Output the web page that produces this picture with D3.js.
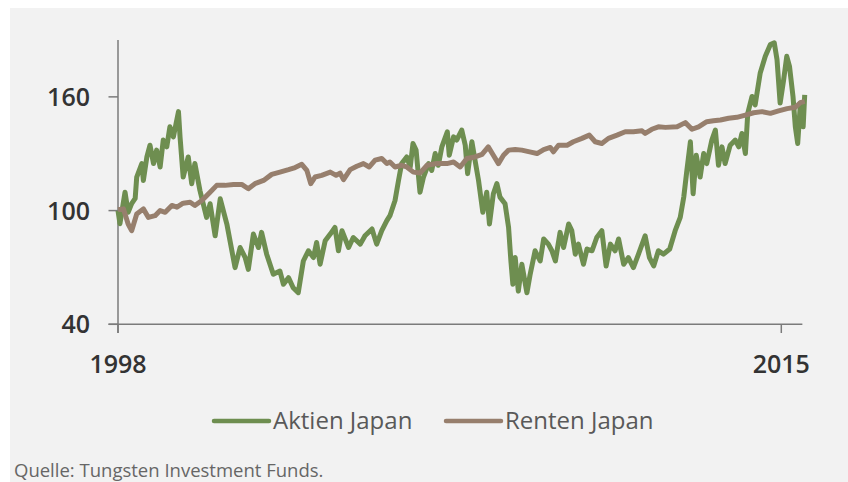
<!DOCTYPE html>
<html>
<head>
<meta charset="utf-8">
<script src="https://cdn.jsdelivr.net/npm/d3@7"></script>
<style>
  body { margin: 0; background: #fff; }
  svg { display: block; }
</style>
</head>
<body>
<div id="chart"></div>
<script>
// Aktien Japan (index, 1998 = 100)
const aktienYears = [
  1998.00, 1998.05, 1998.18, 1998.26, 1998.35, 1998.44, 1998.48, 1998.61, 1998.65, 1998.74,
  1998.82, 1998.91, 1998.99, 1999.08, 1999.16, 1999.25, 1999.33, 1999.42, 1999.55, 1999.59,
  1999.67, 1999.80, 1999.89, 1999.97, 2000.10, 2000.27, 2000.36, 2000.49, 2000.62, 2000.79,
  2001.00, 2001.13, 2001.26, 2001.34, 2001.47, 2001.60, 2001.68, 2001.81, 2001.98, 2002.15,
  2002.24, 2002.37, 2002.49, 2002.62, 2002.75, 2002.88, 2003.01, 2003.09, 2003.18, 2003.31,
  2003.44, 2003.56, 2003.65, 2003.74, 2003.91, 2004.03, 2004.21, 2004.33, 2004.51, 2004.63,
  2004.76, 2004.89, 2004.97, 2005.10, 2005.19, 2005.27, 2005.40, 2005.49, 2005.56, 2005.64,
  2005.74, 2005.83, 2005.96, 2006.04, 2006.13, 2006.21, 2006.30, 2006.44, 2006.49, 2006.60,
  2006.68, 2006.81, 2006.90, 2006.96, 2007.07, 2007.15, 2007.24, 2007.35, 2007.45, 2007.52,
  2007.62, 2007.71, 2007.79, 2007.92, 2008.01, 2008.07, 2008.12, 2008.18, 2008.26, 2008.35,
  2008.48, 2008.56, 2008.69, 2008.82, 2008.91, 2009.03, 2009.12, 2009.21, 2009.33, 2009.42,
  2009.55, 2009.63, 2009.72, 2009.80, 2009.93, 2010.02, 2010.15, 2010.27, 2010.40, 2010.51,
  2010.62, 2010.74, 2010.83, 2010.96, 2011.08, 2011.21, 2011.34, 2011.51, 2011.62, 2011.73,
  2011.85, 2011.98, 2012.14, 2012.28, 2012.41, 2012.50, 2012.58, 2012.67, 2012.74, 2012.82,
  2012.92, 2013.01, 2013.09, 2013.22, 2013.31, 2013.39, 2013.48, 2013.56, 2013.69, 2013.82,
  2013.91, 2013.99, 2014.08, 2014.14, 2014.25, 2014.33, 2014.46, 2014.59, 2014.72, 2014.82,
  2014.89, 2014.97, 2015.06, 2015.14, 2015.21, 2015.30, 2015.36, 2015.42, 2015.49, 2015.56,
  2015.60
];
const aktienValues = [
  100.0, 93.1, 109.7, 99.1, 103.7, 106.4, 117.7, 124.8, 115.9, 128.3,
  134.5, 124.8, 131.9, 123.0, 137.2, 133.6, 144.2, 138.9, 152.2, 138.9,
  117.7, 128.3, 114.2, 124.8, 110.6, 96.4, 103.6, 86.7, 106.2, 92.9,
  69.9, 80.5, 75.2, 69.0, 87.6, 80.5, 88.5, 77.0, 66.4, 68.1,
  61.1, 64.6, 59.3, 56.7, 73.4, 78.8, 75.2, 83.2, 71.7, 84.1,
  87.6, 91.1, 78.8, 89.4, 80.5, 85.8, 82.3, 86.7, 90.3, 82.3,
  89.4, 94.7, 97.3, 105.3, 115.9, 124.8, 128.3, 123.0, 135.4, 131.9,
  109.7, 117.7, 124.8, 121.2, 130.1, 123.9, 133.6, 141.6, 129.2, 138.9,
  137.2, 142.5, 134.5, 119.5, 136.3, 126.6, 115.9, 99.1, 109.7, 92.9,
  108.9, 114.2, 107.1, 103.6, 91.1, 73.4, 61.1, 75.2, 57.5, 71.7,
  56.6, 66.0, 78.8, 73.4, 85.0, 82.3, 78.8, 73.4, 88.5, 80.5,
  92.9, 89.4, 77.0, 82.3, 71.7, 79.7, 78.8, 85.8, 89.4, 70.8,
  82.3, 78.8, 85.0, 71.7, 75.2, 69.9, 77.0, 86.7, 75.2, 70.8,
  78.8, 77.0, 79.7, 89.4, 96.4, 107.1, 121.2, 136.3, 108.9, 129.2,
  117.7, 130.1, 124.8, 137.2, 142.5, 123.9, 133.6, 124.8, 134.5, 137.2,
  133.6, 140.7, 130.1, 151.3, 160.2, 155.8, 172.6, 181.4, 187.6, 188.5,
  179.7, 156.7, 169.0, 181.4, 176.1, 160.2, 144.2, 135.4, 156.7, 144.2,
  161.1
];

// Renten Japan
const rentenYears = [
  1998.00, 1998.14, 1998.26, 1998.35, 1998.48, 1998.65, 1998.78, 1998.95, 1999.08, 1999.21,
  1999.38, 1999.51, 1999.67, 1999.85, 1999.97, 2000.15, 2000.36, 2000.53, 2000.74, 2000.96,
  2001.17, 2001.34, 2001.51, 2001.73, 2001.94, 2002.15, 2002.37, 2002.54, 2002.71, 2002.84,
  2002.94, 2003.05, 2003.22, 2003.44, 2003.59, 2003.69, 2003.78, 2003.95, 2004.12, 2004.29,
  2004.44, 2004.59, 2004.76, 2004.89, 2004.97, 2005.10, 2005.27, 2005.40, 2005.57, 2005.74,
  2005.92, 2006.17, 2006.43, 2006.60, 2006.77, 2006.94, 2007.15, 2007.33, 2007.49, 2007.62,
  2007.75, 2007.88, 2008.01, 2008.18, 2008.35, 2008.55, 2008.74, 2008.91, 2009.08, 2009.16,
  2009.29, 2009.51, 2009.67, 2009.89, 2010.08, 2010.23, 2010.40, 2010.57, 2010.79, 2011.00,
  2011.21, 2011.43, 2011.51, 2011.68, 2011.85, 2012.03, 2012.33, 2012.54, 2012.71, 2012.88,
  2013.09, 2013.26, 2013.44, 2013.65, 2013.86, 2014.08, 2014.29, 2014.51, 2014.72, 2014.93,
  2015.15, 2015.36, 2015.49, 2015.60
];
const rentenValues = [
  100.5, 100.9, 92.9, 89.4, 98.2, 100.9, 96.4, 97.3, 100.0, 99.1,
  102.7, 101.8, 103.9, 104.4, 102.7, 105.3, 109.7, 113.3, 113.3, 113.8,
  113.8, 111.5, 114.2, 115.9, 119.1, 120.3, 121.6, 122.7, 124.4, 121.2,
  114.2, 117.7, 118.6, 120.3, 118.6, 119.8, 116.3, 121.6, 123.4, 124.8,
  123.0, 126.6, 127.5, 124.8, 125.6, 123.0, 123.9, 123.0, 120.3, 119.8,
  123.9, 124.8, 124.8, 125.6, 123.0, 127.5, 128.3, 129.7, 133.6, 129.2,
  124.8, 129.2, 131.9, 132.2, 131.9, 131.0, 130.1, 132.2, 133.3, 131.0,
  134.5, 134.5, 136.3, 138.1, 139.8, 136.3, 135.4, 138.1, 139.8, 141.6,
  141.6, 142.1, 140.7, 142.9, 144.2, 143.9, 144.2, 146.4, 142.9, 144.2,
  146.9, 147.4, 147.8, 148.7, 149.2, 150.4, 151.6, 152.2, 151.3, 152.6,
  153.8, 154.5, 157.0, 157.6
];

const yTicks = [40, 100, 160];
const xTicks = [1998, 2015];
const seriesNames = ["Aktien Japan", "Renten Japan"];
const seriesColors = ["#6e8e50", "#977f6d"];

const width = 848;
const height = 482;

const svg = d3.select("#chart").append("svg")
    .attr("width", width)
    .attr("height", height);

// grey panel
svg.append("rect")
    .attr("x", 10).attr("y", 8)
    .attr("width", width - 10).attr("height", height - 8)
    .attr("fill", "#f2f2f2");

const x = d3.scaleLinear().domain([1998, 2015]).range([118, 781.3]);
const y = d3.scaleLinear().domain([40, 190]).range([324.3, 40]);

// axes
const axisColor = "#7b7b7b";
svg.append("line")
    .attr("x1", 118).attr("x2", 118)
    .attr("y1", y(190)).attr("y2", 333)
    .attr("stroke", axisColor).attr("stroke-width", 1.5);
svg.append("line")
    .attr("x1", 108.5).attr("x2", x(2015.54))
    .attr("y1", y(40)).attr("y2", y(40))
    .attr("stroke", axisColor).attr("stroke-width", 1.5);

svg.selectAll(".ytick")
    .data(yTicks)
    .enter().append("line")
    .attr("x1", 108.5).attr("x2", 118)
    .attr("y1", d => y(d)).attr("y2", d => y(d))
    .attr("stroke", axisColor).attr("stroke-width", 1.5);

svg.selectAll(".ylabel")
    .data(yTicks)
    .enter().append("text")
    .attr("x", 90)
    .attr("y", d => y(d))
    .attr("dy", "0.36em")
    .attr("text-anchor", "end")
    .style("font-family", "'Open Sans', sans-serif")
    .style("font-size", "25px")
    .style("font-weight", 600)
    .attr("fill", "#333")
    .text(d => d);

svg.selectAll(".xtick")
    .data(xTicks)
    .enter().append("line")
    .attr("x1", d => x(d)).attr("x2", d => x(d))
    .attr("y1", y(40)).attr("y2", 333)
    .attr("stroke", axisColor).attr("stroke-width", 1.5);

svg.selectAll(".xlabel")
    .data(xTicks)
    .enter().append("text")
    .attr("x", d => x(d))
    .attr("y", 373)
    .attr("text-anchor", "middle")
    .style("font-family", "'Open Sans', sans-serif")
    .style("font-size", "25px")
    .style("font-weight", 600)
    .attr("fill", "#333")
    .text(d => d);

// lines
const line = d3.line()
    .x(d => x(d[0]))
    .y(d => y(d[1]));

const rentenData = d3.zip(rentenYears, rentenValues);
const aktienData = d3.zip(aktienYears, aktienValues);

svg.append("path")
    .datum(aktienData)
    .attr("d", line)
    .attr("fill", "none")
    .attr("stroke", seriesColors[0])
    .attr("stroke-width", 5)
    .attr("stroke-linejoin", "round");

svg.append("path")
    .datum(rentenData)
    .attr("d", line)
    .attr("fill", "none")
    .attr("stroke", seriesColors[1])
    .attr("stroke-width", 5)
    .attr("stroke-linejoin", "round");

// legend
const legendX = [214, 446];
const legend = svg.selectAll(".legend")
    .data(seriesNames)
    .enter().append("g")
    .attr("transform", (d, i) => `translate(${legendX[i]},421)`);

legend.append("line")
    .attr("x1", 0).attr("x2", 55)
    .attr("stroke", (d, i) => seriesColors[i])
    .attr("stroke-width", 4.5)
    .attr("stroke-linecap", "round");

legend.append("text")
    .attr("x", 59)
    .attr("dy", "0.35em")
    .style("font-family", "'Open Sans', sans-serif")
    .style("font-size", "24px")
    .attr("fill", "#595959")
    .text(d => d);

// source
svg.append("text")
    .attr("x", 14)
    .attr("y", 477)
    .style("font-family", "'Open Sans', sans-serif")
    .style("font-size", "18.5px")
    .attr("fill", "#666")
    .text("Quelle: Tungsten Investment Funds.");
</script>
</body>
</html>
